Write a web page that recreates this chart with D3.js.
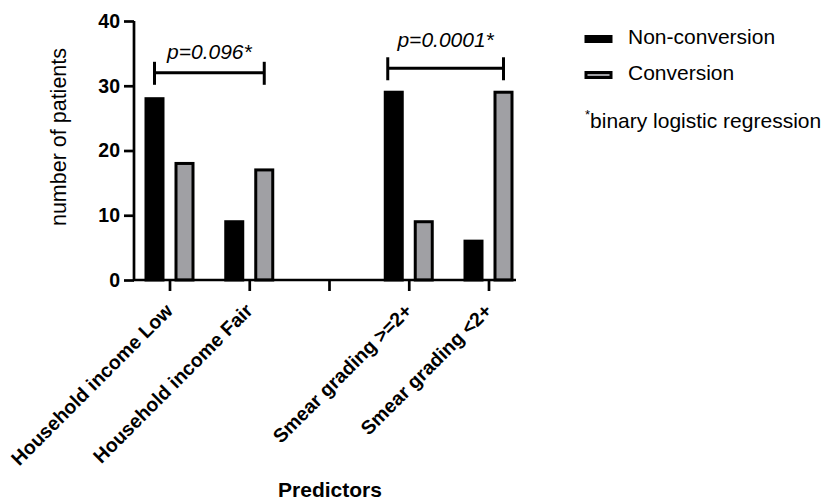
<!DOCTYPE html>
<html>
<head>
<meta charset="utf-8">
<script src="https://cdn.jsdelivr.net/npm/d3@7"></script>
<style>
  body { margin: 0; background: #fff; }
  svg { display: block; font-family: "Liberation Sans", Arial, sans-serif; }
</style>
</head>
<body>
<div id="chart"></div>
<script>
// data
var categories = ["Household income Low", "Household income Fair", "", "Smear grading >=2+", "Smear grading <2+"];
var nonConversion = [28, 9, null, 29, 6];
var conversion = [18, 17, null, 9, 29];
var seriesNames = ["Non-conversion", "Conversion"];
var seriesColors = ["#000000", "#a0a0a4"];
var yTicks = [0, 10, 20, 30, 40];
var brackets = [
  {from: 0, to: 1, label: "p=0.096*", h: 32.0},
  {from: 3, to: 4, label: "p=0.0001*", h: 32.7}
];
// bracket drawing tweaks: [left shift, label gap]
var bracketStyle = [[0, 14], [-6, 21]];

var width = 832, height = 504;
var font = "Liberation Sans, Arial, sans-serif";

var svg = d3.select("#chart").append("svg")
    .attr("width", width)
    .attr("height", height);

var y = d3.scaleLinear().domain([0, 40]).range([280, 21]);
var x = d3.scalePoint().domain(d3.range(categories.length)).range([169.5, 488.5]);
var off = 15, bw = 20;

// bars
var series = [nonConversion, conversion];
series.forEach(function(vals, s) {
  svg.append("g").selectAll("rect")
    .data(vals.map((v, i) => ({v: v, i: i})).filter(d => d.v != null))
    .join("rect")
      .attr("x", d => x(d.i) + (s == 0 ? -off : off) - bw / 2 + 1.5)
      .attr("y", d => y(d.v))
      .attr("width", bw - 3)
      .attr("height", d => y(0) - y(d.v))
      .attr("fill", seriesColors[s])
      .attr("stroke", "#000")
      .attr("stroke-width", 3);
});

// y axis
var yAxis = svg.append("g")
    .attr("transform", "translate(134,0)")
    .call(d3.axisLeft(y).tickValues(yTicks).tickSize(10).tickPadding(4));
yAxis.select(".domain").attr("stroke-width", 2.7).attr("d", "M0," + (y(40)) + "V" + y(0));
yAxis.selectAll(".tick line").attr("stroke-width", 2.7);
yAxis.selectAll(".tick text").attr("font-size", 19.5).attr("font-weight", "bold")
    .attr("font-family", font).attr("fill", "#000");

// x axis
var xAxis = svg.append("g")
    .attr("transform", "translate(0,280)")
    .call(d3.axisBottom(x).tickSize(11).tickFormat(i => categories[i]));
xAxis.select(".domain").attr("stroke-width", 2.7).attr("d", "M133,0H516");
xAxis.selectAll(".tick line").attr("stroke-width", 2.7);
xAxis.selectAll(".tick text")
    .attr("font-size", 19.5).attr("font-weight", "bold")
    .attr("font-family", font).attr("fill", "#000")
    .attr("text-anchor", "end")
    .attr("dy", null).attr("y", 0)
    .attr("transform", "translate(4,32) rotate(-45)");

// axis titles
svg.append("text")
    .attr("transform", "translate(66,137) rotate(-90)")
    .attr("text-anchor", "middle")
    .attr("font-size", 21.5)
    .text("number of patients");

svg.append("text")
    .attr("x", 330).attr("y", 497)
    .attr("text-anchor", "middle")
    .attr("font-size", 21).attr("font-weight", "bold")
    .text("Predictors");

// significance brackets
brackets.forEach(function(b, k) {
  var x1 = x(b.from) - off + bracketStyle[k][0], x2 = x(b.to) + off, yy = y(b.h);
  var g = svg.append("g").attr("stroke", "#000").attr("stroke-width", 3);
  g.append("line").attr("x1", x1).attr("x2", x2).attr("y1", yy).attr("y2", yy);
  g.append("line").attr("x1", x1).attr("x2", x1).attr("y1", yy - 11).attr("y2", yy + 12);
  g.append("line").attr("x1", x2).attr("x2", x2).attr("y1", yy - 11).attr("y2", yy + 12);
  svg.append("text")
    .attr("x", (x1 + x2) / 2).attr("y", yy - bracketStyle[k][1])
    .attr("text-anchor", "middle")
    .attr("font-size", 21).attr("font-style", "italic")
    .text(b.label);
});

// legend
var legend = svg.append("g").attr("transform", "translate(585,0)");
seriesNames.forEach(function(name, i) {
  var ly = 39 + i * 36;
  legend.append("rect")
    .attr("x", 1).attr("y", ly - 2.5)
    .attr("width", 25).attr("height", 5)
    .attr("fill", seriesColors[i])
    .attr("stroke", "#000").attr("stroke-width", 3);
  legend.append("text")
    .attr("x", 43).attr("y", ly - 2)
    .attr("dy", "0.35em")
    .attr("font-size", 21)
    .text(name);
});
var note = legend.append("text")
    .attr("x", 0).attr("y", 128)
    .attr("font-size", 21);
note.append("tspan").attr("font-size", 13).attr("dy", -9).text("*");
note.append("tspan").attr("dy", 9).text("binary logistic regression");
</script>
</body>
</html>
